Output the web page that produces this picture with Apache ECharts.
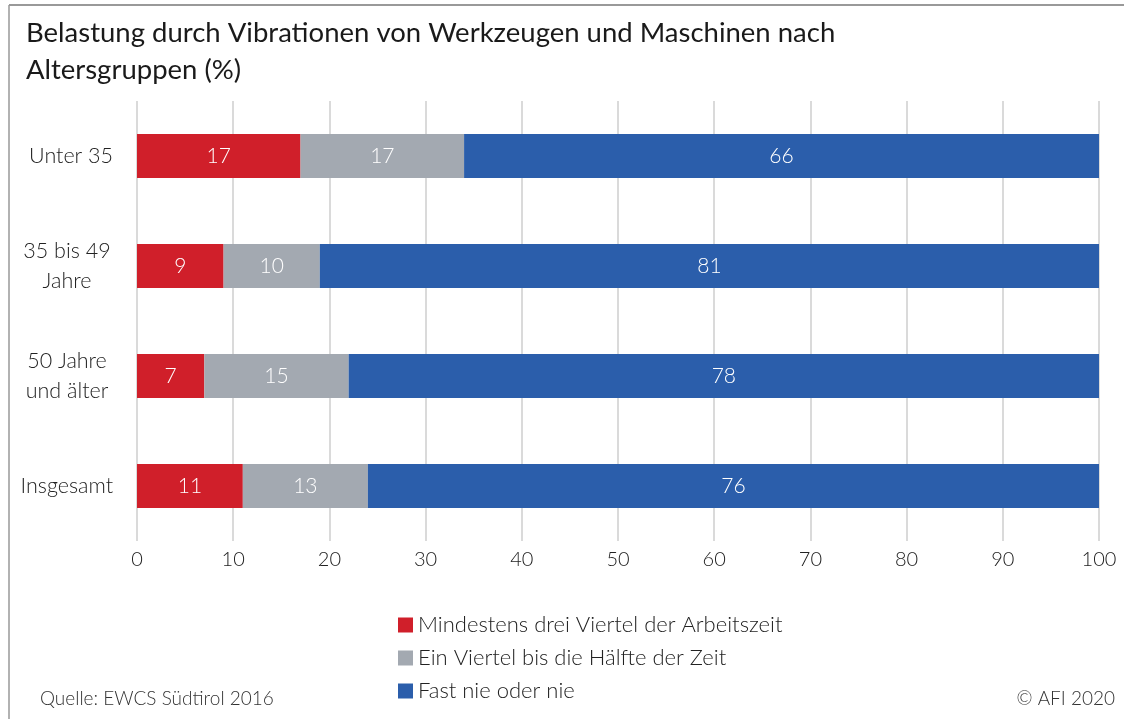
<!DOCTYPE html>
<html>
<head>
<meta charset="utf-8">
<script src="https://cdn.jsdelivr.net/npm/echarts@6/dist/echarts.min.js"></script>
<style>
  html, body { margin: 0; padding: 0; background: #fff; }
  #chart { width: 1124px; height: 719px; }
</style>
</head>
<body>
<div id="chart"></div>
<script>
var categories = ['Unter 35', '35 bis 49 Jahre', '50 Jahre und älter', 'Insgesamt'];
var seriesNames = ['Mindestens drei Viertel der Arbeitszeit', 'Ein Viertel bis die Hälfte der Zeit', 'Fast nie oder nie'];
var seriesColors = ['#d01f2a', '#a3a9b1', '#2b5eab'];
var dreiViertel = [17, 9, 7, 11];
var halbeZeit = [17, 10, 15, 13];
var fastNie = [66, 81, 78, 76];
var xTicks = [0, 10, 20, 30, 40, 50, 60, 70, 80, 90, 100];

var font = 'Lato';
var chart = echarts.init(document.getElementById('chart'));

// mehrzeilige Kategorien, Zeilen zentriert
var labelLines = {
    '35 bis 49 Jahre': '{m|35 bis 49}\n{m|Jahre}',
    '50 Jahre und älter': '{m|50 Jahre}\n{m|und älter}'
};

var dataSets = [dreiViertel, halbeZeit, fastNie];
var seriesArr = [];
for (var i = 0; i < dataSets.length; i++) {
    seriesArr.push({
        name: seriesNames[i],
        type: 'bar',
        stack: 'total',
        barWidth: 44,
        data: dataSets[i],
        itemStyle: { color: seriesColors[i] },
        label: {
            show: true,
            position: 'inside',
            color: '#fff',
            fontFamily: font,
            fontSize: 21,
            fontWeight: 300
        }
    });
}

var option = {
    backgroundColor: '#fff',
    animation: false,
    title: [
        {
            text: 'Belastung durch Vibrationen von Werkzeugen und Maschinen nach\nAltersgruppen (%)',
            left: 21, top: 10,
            textStyle: { fontFamily: font, fontSize: 27.5, fontWeight: 'normal', color: '#1a1a1a', lineHeight: 37 }
        },
        {
            text: 'Quelle: EWCS Südtirol 2016',
            left: 35, top: 684,
            textStyle: { fontFamily: font, fontSize: 19, fontWeight: 300, color: '#333' }
        },
        {
            text: '© AFI 2020',
            right: 4, top: 684,
            textStyle: { fontFamily: font, fontSize: 19, fontWeight: 300, color: '#333' }
        }
    ],
    legend: {
        orient: 'vertical',
        left: 393, top: 609,
        itemWidth: 15, itemHeight: 15,
        itemGap: 11,
        icon: 'rect',
        data: seriesNames,
        textStyle: { fontFamily: font, fontSize: 22, fontWeight: 300, color: '#222' }
    },
    grid: { left: 137, right: 25, top: 101, height: 440 },
    xAxis: {
        type: 'value',
        min: 0, max: 100, interval: 10,
        axisLine: { show: false },
        axisTick: { show: false },
        splitLine: { lineStyle: { color: '#dadada', width: 2 } },
        axisLabel: {
            margin: 9,
            fontFamily: font, fontSize: 20, fontWeight: 300, color: '#222',
            formatter: function (v) { return xTicks.indexOf(v) >= 0 ? String(v) : ''; }
        }
    },
    yAxis: {
        type: 'category',
        inverse: true,
        data: categories,
        axisLine: { show: false },
        axisTick: { show: false },
        axisLabel: {
            margin: 24,
            fontFamily: font, fontSize: 21.5, fontWeight: 300, color: '#222',
            lineHeight: 30,
            formatter: function (v) { return labelLines[v] || v; },
            rich: {
                m: { width: 92, align: 'center', fontFamily: font, fontSize: 21.5, fontWeight: 300, color: '#222', lineHeight: 30 }
            }
        }
    },
    graphic: [
        { type: 'line', shape: { x1: 9, y1: 5, x2: 1124, y2: 5 }, style: { stroke: '#777', lineWidth: 1.5 } },
        { type: 'line', shape: { x1: 9, y1: 5, x2: 9, y2: 719 }, style: { stroke: '#999', lineWidth: 1.5 } }
    ],
    series: seriesArr
};

chart.setOption(option);
</script>
</body>
</html>
